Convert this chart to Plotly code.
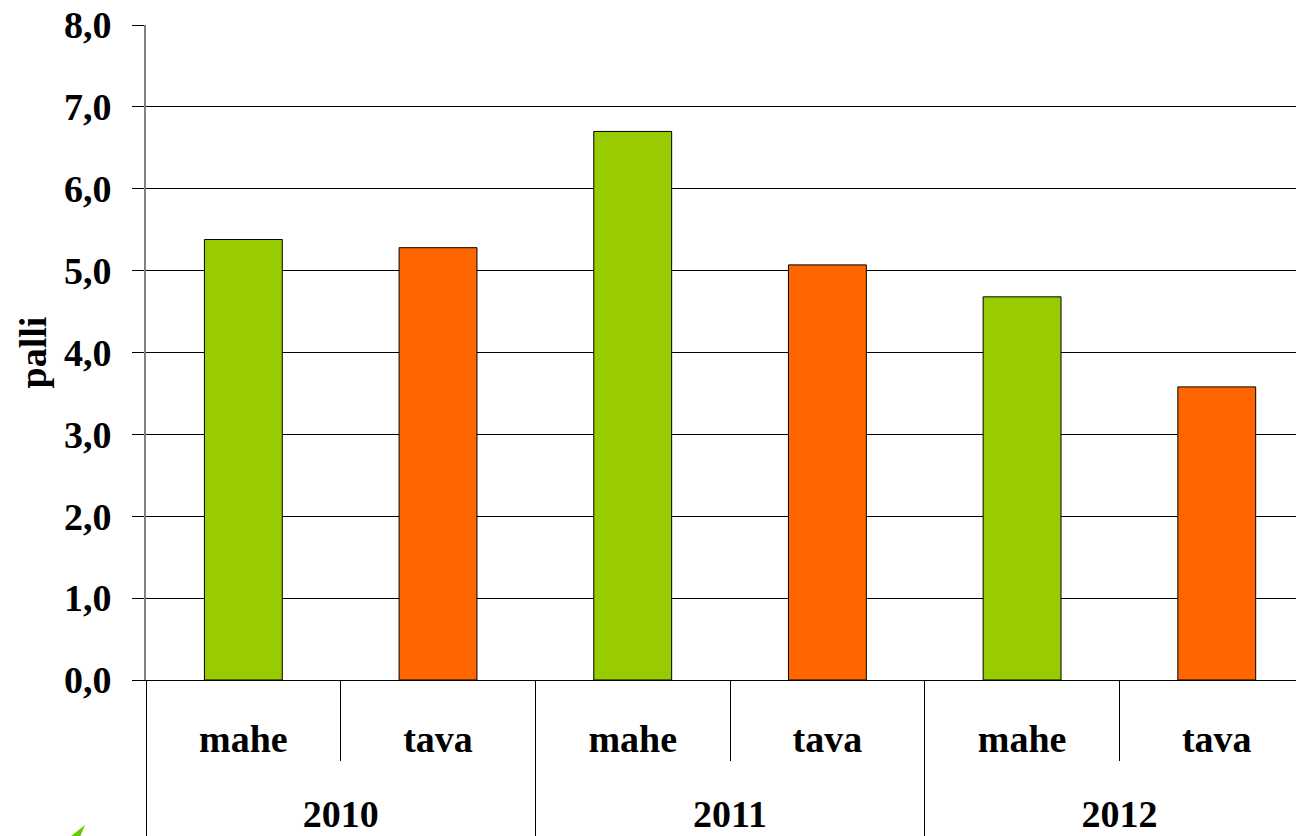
import plotly.graph_objects as go

# Survey results per year and production type
years = ["2010", "2010", "2011", "2011", "2012", "2012"]
types = ["mahe", "tava", "mahe", "tava", "mahe", "tava"]
scores = [5.38, 5.28, 6.70, 5.07, 4.68, 3.58]

type_colors = {"mahe": "#99CC00", "tava": "#FF6600"}

y_ticks = [0, 1, 2, 3, 4, 5, 6, 7, 8]
y_title = "palli"

FONT = "Liberation Serif"
FS = 38

# the second (blank) line under each type label leaves room above the year row
spacer = "<br><span style='font-size:70px'>\u00a0</span>"

fig = go.Figure()
for t in ["mahe", "tava"]:
    xs_outer = [y for y, tt in zip(years, types) if tt == t]
    xs_inner = [tt + spacer for tt in types if tt == t]
    vals = [v for v, tt in zip(scores, types) if tt == t]
    fig.add_trace(go.Bar(
        x=[xs_outer, xs_inner],
        y=vals,
        name=t,
        width=0.4,
        marker=dict(color=type_colors[t], line=dict(color="#000000", width=1)),
        showlegend=False,
    ))

fig.update_layout(
    width=1296,
    height=836,
    margin=dict(l=146, r=0, t=25, b=156),
    paper_bgcolor="white",
    plot_bgcolor="white",
    barmode="overlay",
    separators=", ",
    font=dict(family=FONT, size=FS, color="black", weight="bold"),
)

fig.update_xaxes(
    type="multicategory",
    range=[-0.5, 5.407],
    showgrid=False,
    showline=True,
    linecolor="black",
    linewidth=1,
    ticks="outside",
    ticklen=80,
    tickcolor="black",
    tickwidth=1,
    ticklabelstandoff=25,
    showdividers=True,
    dividercolor="black",
    dividerwidth=1,
    tickfont=dict(family=FONT, size=FS, color="black", weight="bold"),
)

fig.update_yaxes(
    range=[0, 8],
    tickvals=y_ticks,
    tickformat=".1f",
    showgrid=True,
    gridcolor="black",
    gridwidth=1,
    zeroline=False,
    showline=True,
    linecolor="#808080",
    linewidth=2,
    ticks="outside",
    ticklen=12,
    tickcolor="black",
    tickwidth=1,
    ticklabelstandoff=13,
    tickfont=dict(family=FONT, size=FS, color="black", weight="bold"),
)

# vertical y-axis title at the far left
fig.add_annotation(
    text=y_title,
    xref="paper", yref="paper",
    x=-0.0983, y=0.5,
    xanchor="center", yanchor="middle",
    textangle=-90,
    showarrow=False,
    font=dict(family=FONT, size=FS, color="black", weight="bold"),
)

# small green logo fragment in the lower-left corner
fig.add_shape(
    type="path",
    xref="paper", yref="paper",
    path="M -0.0652,-0.2382 L -0.0530,-0.2214 L -0.0570,-0.2382 Z",
    fillcolor="#66CC00",
    line=dict(width=0),
    layer="above",
)

fig.write_html("out.html")
